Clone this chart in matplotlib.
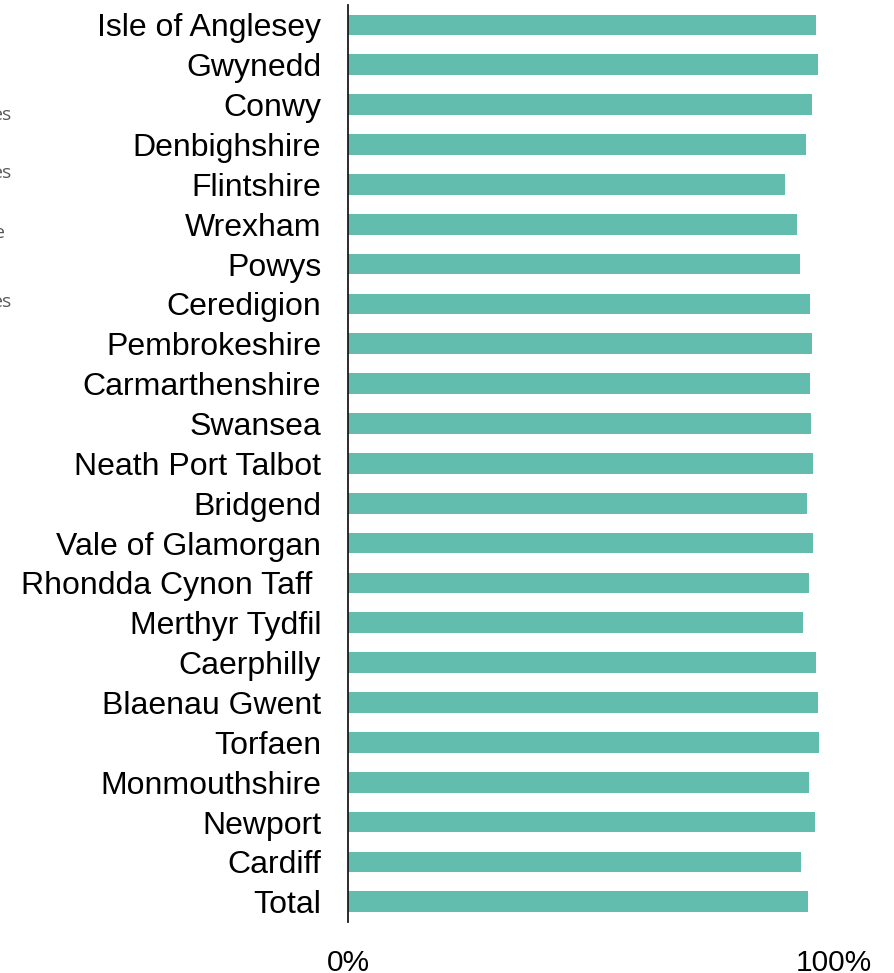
import matplotlib
matplotlib.use("Agg")
import matplotlib.pyplot as plt
from matplotlib import font_manager as fm

categories = ["Isle of Anglesey", "Gwynedd", "Conwy", "Denbighshire", "Flintshire",
              "Wrexham", "Powys", "Ceredigion", "Pembrokeshire", "Carmarthenshire",
              "Swansea", "Neath Port Talbot", "Bridgend", "Vale of Glamorgan",
              "Rhondda Cynon Taff ", "Merthyr Tydfil", "Caerphilly", "Blaenau Gwent",
              "Torfaen", "Monmouthshire", "Newport", "Cardiff", "Total"]
values = [96.3, 96.7, 95.5, 94.3, 90.0,
          92.3, 92.9, 95.1, 95.4, 95.1,
          95.2, 95.7, 94.5, 95.6,
          94.8, 93.6, 96.2, 96.7,
          96.9, 94.8, 96.0, 93.2, 94.6]
xticks = [0, 100]
xticklabels = ["0%", "100%"]
side_fragments = ["es", "es", "e", "es"]

# locate Liberation Sans explicitly
lib_path = None
for p in fm.findSystemFonts():
    if "LiberationSans-Regular" in p:
        lib_path = p
        break
if lib_path:
    fm.fontManager.addfont(lib_path)
    main_family = fm.FontProperties(fname=lib_path).get_name()
else:
    main_family = "Liberation Sans"
plt.rcParams["font.family"] = [main_family, "DejaVu Sans"]

W, H = 894, 973
fig = plt.figure(figsize=(W / 100, H / 100), dpi=100)
ax = fig.add_axes([348.3 / W, (H - 921.7) / H, 485.7 / W, 916.7 / H])

ypos = list(range(len(categories)))
ax.barh(ypos, values, height=0.52, color="#62BDAE", edgecolor="none")
ax.set_ylim(len(categories) - 0.5, -0.5)
ax.set_xlim(0, 100)
ax.set_yticks(ypos)
ax.set_yticklabels(categories, fontsize=23, color="#000000")
ax.set_xticks(xticks)
ax.set_xticklabels(xticklabels, fontsize=21.5, color="#000000")
ax.tick_params(axis="y", length=0, pad=19.5)
ax.tick_params(axis="x", length=0, pad=20)
for s in ["top", "right", "bottom"]:
    ax.spines[s].set_visible(False)
ax.spines["left"].set_linewidth(1.3)
ax.spines["left"].set_color("#1a1a1a")

# clipped legend text fragments at the left edge
frag_x = [12.5, 12.5, 4.5, 12.5]
frag_y = [120, 178, 238, 307]
for txt, fx, fy in zip(side_fragments, frag_x, frag_y):
    fig.text(fx / W, 1 - fy / H, txt, ha="right", va="baseline", fontsize=14,
             family=["Open Sans", "DejaVu Sans"], color="#595959")

fig.savefig("out.png", dpi=100)
